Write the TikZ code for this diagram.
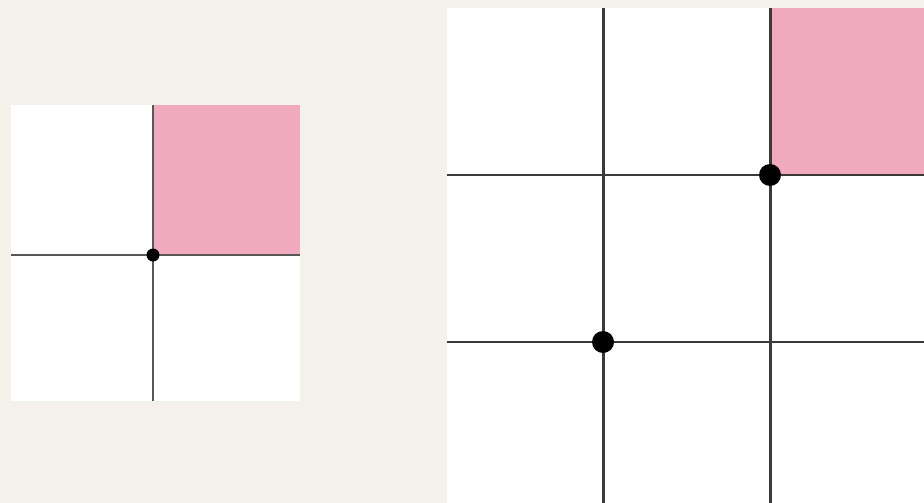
\documentclass[tikz,border=0pt]{standalone}
\usepackage{xcolor}
\usepackage{tikz}
\usetikzlibrary{positioning,calc}
\definecolor{paper}{HTML}{F4F1EA}
\definecolor{quadpink}{HTML}{F0A9BD}
\definecolor{gridline}{HTML}{3A3A3A}
\begin{document}
\begin{tikzpicture}[x=0.01cm,y=0.01cm]
\tikzstyle{every node}+=[inner sep=0pt]
\tikzstyle{thin grid}=[draw=gridline!85!white, line width=0.6pt]
\tikzstyle{thick grid}=[draw=gridline, line width=0.85pt]
\fill [paper] (0,0) rectangle (924,-503);
\useasboundingbox (0,0) rectangle (924,-503);
% small panel
\fill [white] (11,-105) rectangle (300,-401);
\fill [quadpink] (153,-105) rectangle (300,-255);
\coordinate (s0) at (153,-255);
\coordinate (sl) at (11,-255);
\coordinate (sr) at (300,-255);
\coordinate (st) at (153,-105);
\coordinate (sb) at (153,-401);
\draw [thin grid] (sl) -- (sr);
\draw [thin grid] (st) -- (sb);
\fill [black] (s0) circle (6.5);
% large panel
\fill [white] (447,-8) rectangle (924,-503);
\fill [quadpink] (770,-8) rectangle (924,-175);
\coordinate (b0) at (603,-342);
\coordinate (b1) at (770,-175);
\coordinate (h1l) at (447,-175);
\coordinate (h1r) at (924,-175);
\coordinate (h0l) at (447,-342);
\coordinate (h0r) at (924,-342);
\coordinate (v0t) at (603,-8);
\coordinate (v0b) at (603,-503);
\coordinate (v1t) at (770,-8);
\coordinate (v1b) at (770,-503);
\draw [thick grid] (h1l) -- (h1r);
\draw [thick grid] (h0l) -- (h0r);
\draw [thick grid] (v0t) -- (v0b);
\draw [thick grid] (v1t) -- (v1b);
\fill [black] (b0) circle (11);
\fill [black] (b1) circle (11);
\end{tikzpicture}
\end{document}
